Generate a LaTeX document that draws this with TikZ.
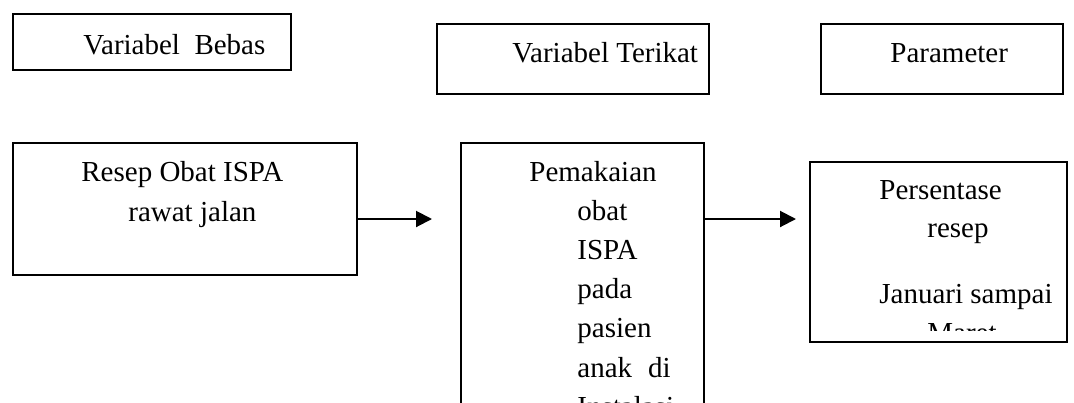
\documentclass[tikz,border=0pt]{standalone}
\usepackage{fontspec}
\setmainfont{Liberation Serif}
\usetikzlibrary{arrows.meta}

\begin{document}
\begin{tikzpicture}[x=0.5pt, y=-0.5pt,
  kotak/.style={draw, line width=1pt, rectangle, inner sep=0pt, anchor=north west},
  teks/.style={inner sep=0pt, anchor=base west, font=\fontsize{14.5}{17}\selectfont},
  panah/.style={line width=1pt, -{Triangle[length=8pt, width=8pt]}}]
  \useasboundingbox (0,0) rectangle (1074,402);
  \clip (0,0) rectangle (1074,402);
  % kepala kolom
  \node[kotak, minimum width=139pt, minimum height=28pt] (bebas) at (12,13) {};
  \node[kotak, minimum width=136pt, minimum height=35pt] (terikat) at (436,23) {};
  \node[kotak, minimum width=121pt, minimum height=35pt] (param) at (820,23) {};
  \node[teks] (tBebas) at (83,54) {Variabel\ \ Bebas};
  \node[teks] (tTerikat) at (512,62) {Variabel Terikat};
  \node[teks] (tParam) at (890,62) {Parameter};
  % isi kolom
  \node[kotak, minimum width=172pt, minimum height=66pt] (resep) at (12,142) {};
  \node[kotak, minimum width=121.5pt, minimum height=149pt] (pakai) at (460,142) {};
  \node[kotak, minimum width=128.5pt, minimum height=90pt] (hasil) at (809,161) {};
  \node[teks] (tResep1) at (81,181) {Resep Obat ISPA};
  \node[teks] (tResep2) at (128,221) {rawat jalan};
  \node[teks] (pk0) at (529,181) {Pemakaian};
  \foreach \baris [count=\i] in {obat, ISPA, pada, pasien, anak\hspace{8pt}di, Instalasi}
    \node[teks] (pk\i) at (577,181+39.2*\i) {\baris};
  \begin{scope}
    \clip (809,161) rectangle (1066,330);
    \node[teks] (hs1) at (879,199) {Persentase};
    \node[teks] (hs2) at (927,237) {resep};
    \node[teks] (hs3) at (879,303) {Januari sampai};
    \node[teks] (hs4) at (927,342) {Maret};
  \end{scope}
  % panah
  \coordinate (ujungA) at (432,219);
  \coordinate (ujungB) at (796,219);
  \draw[panah] (resep.east |- ujungA) -- (ujungA);
  \draw[panah] (pakai.east |- ujungB) -- (ujungB);
\end{tikzpicture}
\end{document}
